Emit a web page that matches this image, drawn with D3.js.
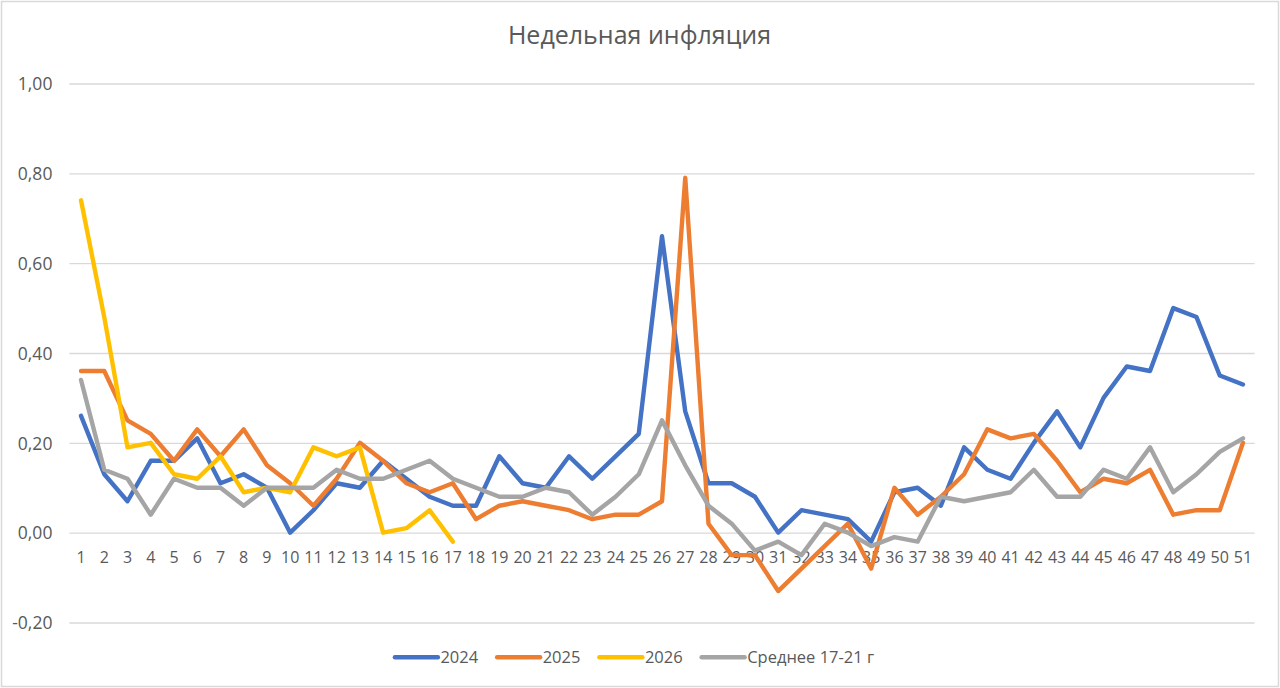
<!DOCTYPE html>
<html><head><meta charset="utf-8">
<script src="https://cdn.jsdelivr.net/npm/d3@7/dist/d3.min.js"></script>
<style>
html,body{margin:0;padding:0;background:#fff;}
svg{display:block;font-family:"Open Sans",sans-serif;}
</style></head>
<body>
<svg id="chart" width="1280" height="688"></svg>
<script>
const title = "Недельная инфляция";
const weeks = d3.range(1, 52).map(String);
const yTicks = [-0.2, 0, 0.2, 0.4, 0.6, 0.8, 1.0];
const seriesNames = ["2024", "2025", "2026", "Среднее 17-21 г"];
const colors = ["#4472C4", "#ED7D31", "#FFC000", "#A5A5A5"];
const s2024 = [0.26,0.13,0.07,0.16,0.16,0.21,0.11,0.13,0.10,0.00,
  0.05,0.11,0.10,0.16,0.12,0.08,0.06,0.06,0.17,0.11,
  0.10,0.17,0.12,0.17,0.22,0.66,0.27,0.11,0.11,0.08,
  0.00,0.05,0.04,0.03,-0.02,0.09,0.10,0.06,0.19,0.14,
  0.12,0.20,0.27,0.19,0.30,0.37,0.36,0.50,0.48,0.35,0.33];
const s2025 = [0.36,0.36,0.25,0.22,0.16,0.23,0.17,0.23,0.15,0.11,
  0.06,0.12,0.20,0.16,0.11,0.09,0.11,0.03,0.06,0.07,
  0.06,0.05,0.03,0.04,0.04,0.07,0.79,0.02,-0.05,-0.05,
  -0.13,-0.08,-0.03,0.02,-0.08,0.10,0.04,0.08,0.13,0.23,
  0.21,0.22,0.16,0.09,0.12,0.11,0.14,0.04,0.05,0.05,0.20];
const s2026 = [0.74,0.48,0.19,0.20,0.13,0.12,0.17,0.09,0.10,0.09,
  0.19,0.17,0.19,0.00,0.01,0.05,-0.02];
const sAvg = [0.34,0.14,0.12,0.04,0.12,0.10,0.10,0.06,0.10,0.10,
  0.10,0.14,0.12,0.12,0.14,0.16,0.12,0.10,0.08,0.08,
  0.10,0.09,0.04,0.08,0.13,0.25,0.15,0.06,0.02,-0.04,
  -0.02,-0.05,0.02,0.00,-0.03,-0.01,-0.02,0.08,0.07,0.08,
  0.09,0.14,0.08,0.08,0.14,0.12,0.19,0.09,0.13,0.18,0.21];
const seriesValues = [s2024, s2025, s2026, sAvg];

const svg = d3.select("#chart");
const W = 1280, H = 688;
const plot = {left: 69.4, right: 1254.6, top: 83.5, bottom: 622.5};

// chart border
svg.append("rect").attr("x", 1.5).attr("y", 1.5).attr("width", W - 3).attr("height", H - 3)
  .attr("fill", "#fff").attr("stroke", "#d9d9d9").attr("stroke-width", 1.5);

const x = d3.scaleBand().domain(weeks).range([plot.left, plot.right]).padding(0);
const y = d3.scaleLinear().domain([-0.2, 1.0]).range([plot.bottom, plot.top]);
const cx = w => x(w) + x.bandwidth() / 2;
const fmt = v => d3.format(".2f")(v).replace(".", ",").replace("−", "-");

// gridlines
const yAxis = d3.axisLeft(y).tickValues(yTicks).tickSize(-(plot.right - plot.left)).tickFormat(fmt).tickPadding(17);
const gy = svg.append("g").attr("transform", `translate(${plot.left},0)`).call(yAxis);
gy.select(".domain").remove();
gy.selectAll(".tick line").attr("stroke", "#d9d9d9").attr("stroke-width", 1.3);
gy.selectAll(".tick text").attr("fill", "#595959").attr("font-size", 17.5)
  .attr("font-family", "'Open Sans', sans-serif").attr("dy", "0.36em");

// x labels
const xAxis = d3.axisBottom(x).tickSize(0).tickPadding(0);
const gx = svg.append("g").attr("transform", `translate(0,${y(0)})`).call(xAxis);
gx.select(".domain").remove();
gx.selectAll(".tick text").attr("fill", "#595959").attr("font-size", 16)
  .attr("font-family", "'Open Sans', sans-serif").attr("dy", null).attr("y", 30.5);

// lines
const line = d3.line().x((d, i) => cx(weeks[i])).y(d => y(d));
seriesValues.forEach((vals, k) => {
  svg.append("path").datum(vals).attr("d", line).attr("fill", "none")
    .attr("stroke", colors[k]).attr("stroke-width", 4.4)
    .attr("stroke-linejoin", "round").attr("stroke-linecap", "round");
});

// title
svg.append("text").attr("x", 639.5).attr("y", 44.3).attr("text-anchor", "middle")
  .attr("fill", "#595959").attr("font-size", 25).text(title);

// legend
const lg = svg.append("g");
let lx = 0;
seriesNames.forEach((name, k) => {
  const g = lg.append("g");
  g.append("line").attr("x1", 0).attr("x2", 43).attr("y1", 0).attr("y2", 0)
    .attr("stroke", colors[k]).attr("stroke-width", 4.4).attr("stroke-linecap", "round");
  const t = g.append("text").attr("x", 45.5).attr("y", 6).attr("fill", "#595959")
    .attr("font-size", 16.5).text(name);
  const w = 45.5 + t.node().getComputedTextLength();
  g.attr("transform", `translate(${lx},0)`);
  lx += w + 19;
});
const totalW = lx - 19;
lg.attr("transform", `translate(${634.5 - totalW / 2},657.3)`);
</script>
</body></html>
